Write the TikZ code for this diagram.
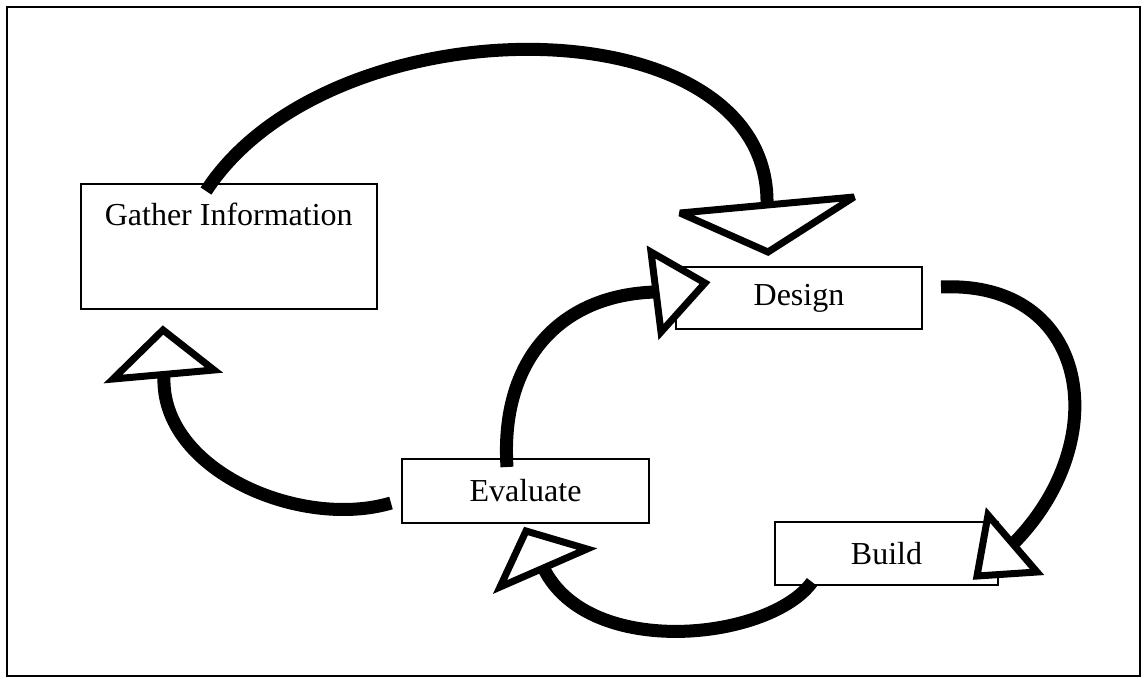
\documentclass[tikz,border=0pt]{standalone}
\usepackage{fontspec}
\setmainfont{Liberation Serif}
\begin{document}
\begin{tikzpicture}[x=1pt,y=-1pt,
  box/.style={draw, line width=1.5pt, inner sep=0pt, font=\fontsize{32}{36}\selectfont},
  flow/.style={line width=13pt, line cap=butt},
  head/.style={draw, line width=7pt, fill=white, line join=miter, miter limit=3}]
  \useasboundingbox (0,0) rectangle (1142,678);
  % outer frame
  \draw[line width=2pt] (7,7) rectangle (1140,676);

  % process boxes
  \node[box, anchor=north west, minimum width=296pt, text height=42pt, text depth=83pt]
    (gather) at (80,183) {Gather Information};
  \node[box, minimum width=246pt, minimum height=62pt] (design) at (799,298) {Design};
  \node[box, minimum width=247pt, minimum height=64pt] (evaluate) at (525.5,491) {Evaluate};
  \node[box, minimum width=223pt, minimum height=63pt] (build) at (886.5,553.5) {Build};

  % connector ends (curve start on a box, curve end at the base of the head)
  \coordinate (g-out) at (206,191);
  \coordinate (d-in)  at (767,204);
  \coordinate (d-out) at (941,287);
  \coordinate (b-in)  at (1014,543);
  \coordinate (b-out) at (812,582);
  \coordinate (e-in)  at (544,569);
  \coordinate (e-out) at (391,503);
  \coordinate (g-in)  at (164,376);
  \coordinate (e-up)  at (507,467);
  \coordinate (d-in2) at (655,292);

  % curved connectors
  \draw[flow] (g-out) .. controls (330,0) and (770,0) .. (d-in);
  \draw[flow] (d-out) .. controls (1090,280) and (1115,440) .. (b-in);
  \draw[flow] (b-out) .. controls (770,640) and (590,660) .. (e-in);
  \draw[flow] (e-out) .. controls (300,530) and (160,470) .. (g-in);
  \draw[flow] (e-up) .. controls (500,360) and (560,295) .. (d-in2);

  % open triangular arrow heads
  \draw[head] (680,213) -- (854,197) -- (768,252) -- cycle;
  \draw[head] (988,515) -- (1037,572) -- (977,576) -- cycle;
  \draw[head] (526,531) -- (587,549) -- (500,587) -- cycle;
  \draw[head] (163,330) -- (214,370) -- (113,379) -- cycle;
  \draw[head] (651,252) -- (705,283) -- (661,332) -- cycle;
\end{tikzpicture}
\end{document}
